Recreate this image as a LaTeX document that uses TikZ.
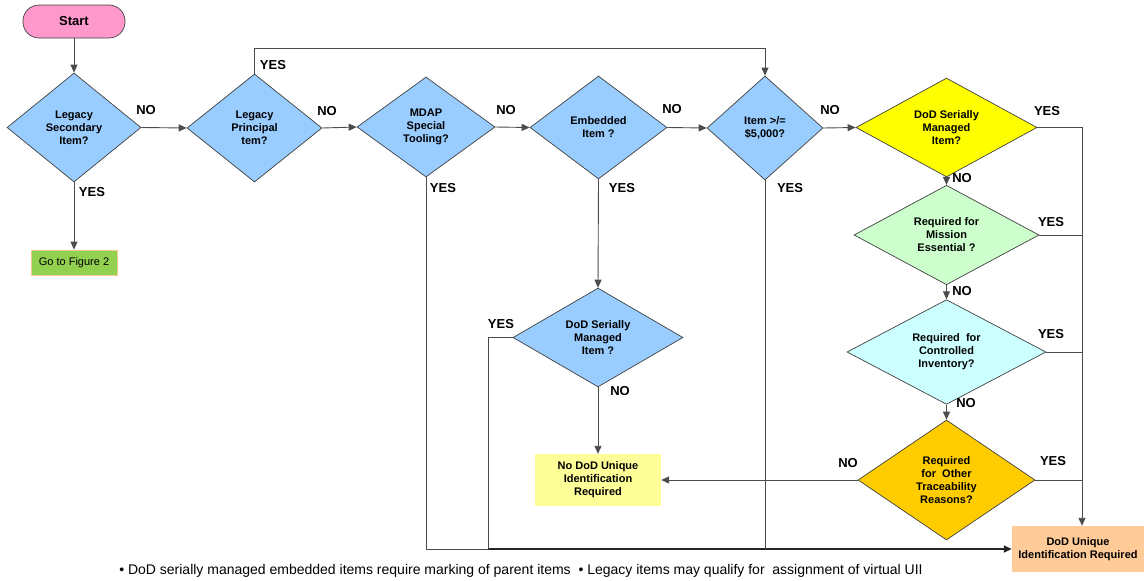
\documentclass[tikz,border=0pt]{standalone}
\usepackage{fontspec}
\setmainfont{Liberation Sans}
\usetikzlibrary{shapes.geometric,arrows.meta,calc}
\definecolor{blueD}{HTML}{99CCFF}
\definecolor{yelD}{HTML}{FFFF00}
\definecolor{greenD}{HTML}{CCFFCC}
\definecolor{cyanD}{HTML}{CCFFFF}
\definecolor{orangeD}{HTML}{FFCC00}
\definecolor{lyel}{HTML}{FFFF99}
\definecolor{peach}{HTML}{FFCC99}
\definecolor{figgreen}{HTML}{92D050}
\definecolor{figborder}{HTML}{F9C88F}
\definecolor{pinkS}{HTML}{FF99CC}
\newcommand\dfont{\fontsize{11}{13}\selectfont\bfseries}
\newcommand\lfont{\fontsize{13}{15}\selectfont\bfseries}
\tikzset{
  dia/.style={diamond, draw=black!75, line width=0.7pt, inner sep=0pt, align=center, font=\dfont, text=black},
  boxn/.style={rectangle, inner sep=0pt, align=center, font=\dfont, text=black},
  lab/.style={font=\lfont, inner sep=0pt},
  conn/.style={draw=black!70, line width=0.9pt},
  arr/.style={conn, -{Triangle[length=8pt,width=7pt]}},
}
\begin{document}
\begin{tikzpicture}[x=1pt,y=-1pt]
\useasboundingbox (0,0) rectangle (1144,581);
% Start
\node[draw=black!75, line width=0.7pt, fill=pinkS, rounded corners=16pt, minimum width=102pt, minimum height=33pt, inner sep=0pt, font=\lfont] (start) at (74,21.5) {Start};
% diamonds
\node[dia, fill=blueD, minimum width=134pt, minimum height=109pt] (d1) at (74,127.5) {Legacy\\Secondary\\Item?};
\node[dia, fill=blueD, minimum width=135pt, minimum height=108pt] (d2) at (254.5,128) {Legacy\\Principal\\tem?};
\node[dia, fill=blueD, minimum width=138pt, minimum height=100pt] (d3) at (426,127) {MDAP\\Special\\Tooling?};
\node[dia, fill=blueD, minimum width=137pt, minimum height=103pt] (d4) at (598.5,127.5) {Embedded\\Item ?};
\node[dia, fill=blueD, minimum width=116pt, minimum height=104pt] (d5) at (765,128) {Item >/=\\\$5,000?};
\node[dia, fill=yelD, minimum width=181pt, minimum height=93pt] (d6) at (946.5,127.5) {DoD Serially\\Managed\\Item?};
\node[dia, fill=greenD, minimum width=185pt, minimum height=94pt] (d7) at (946.5,235) {Required for\\Mission\\Essential ?};
\node[dia, fill=cyanD, minimum width=199pt, minimum height=94pt] (d8) at (946.5,352) {Required\ \ for\\Controlled\\Inventory?};
\node[dia, fill=orangeD, minimum width=177pt, minimum height=120pt] (d9) at (946.5,480) {Required\\for\ \ Other\\Traceability\\Reasons?};
\node[dia, fill=blueD, minimum width=170pt, minimum height=85pt] (d10) at (598,337.5) {DoD Serially\\Managed\\Item ?};
% boxes
\node[boxn, fill=figgreen, draw=figborder, line width=0.8pt, minimum width=86pt, minimum height=25pt, font=\fontsize{11}{13}\selectfont] (fig2) at (74,262.5) {Go to Figure 2};
\node[boxn, fill=lyel, minimum width=126pt, minimum height=52pt] (nodod) at (598,480) {No DoD Unique\\Identification\\Required};
\node[boxn, fill=peach, minimum width=132pt, minimum height=46pt] (dui) at (1078,549) {DoD Unique\\Identification Required};
% helper coordinates
\coordinate (rx) at (1082,0);
\coordinate (topy) at (0,48);
\coordinate (lx) at (488,0);
% connectors
\draw[arr] (start) -- (d1);
\draw[arr] (d1.south) -- (fig2.north);
\draw[arr] (d1.east) -- (d2.west);
\draw[arr] (d2.east) -- (d3.west);
\draw[arr] (d3.east) -- (d4.west);
\draw[arr] (d4.east) -- (d5.west);
\draw[arr] (d5.east) -- (d6.west);
\draw[arr] (d2.north) -- (d2.north |- topy) -- (d5.north |- topy) -- (d5.north);
\draw[arr] (d4.south) -- (d10.north);
\draw[arr] (d10.south) -- (nodod.north);
\draw[arr] (d6.south) -- (d7.north);
\draw[arr] (d7.south) -- (d8.north);
\draw[arr] (d8.south) -- (d9.north);
\draw[arr] (d9.west) -- (nodod.east);
\draw[arr] (d6.east) -- (d6.east -| rx) -- (rx |- dui.north);
\draw[conn] (d7.east) -- (d7.east -| rx);
\draw[conn] (d8.east) -- (d8.east -| rx);
\draw[conn] (d9.east) -- (d9.east -| rx);
\draw[conn] (d3.south) -- (d3.south |- dui.west) -- (lx |- dui.west);
\draw[arr, draw=black!85, line width=1.6pt] (lx |- dui.west) -- (dui.west);
\draw[conn] (d10.west) -- (d10.west -| lx) -- (lx |- dui.west);
\draw[conn] (d5.south) -- (d5.south |- dui.west);
% labels
\node[lab] (l1n) at (146,110) {NO};
\node[lab] (l1y) at (92,192) {YES};
\node[lab] (l2y) at (273,65) {YES};
\node[lab] (l2n) at (327,111) {NO};
\node[lab] (l3n) at (506,110) {NO};
\node[lab] (l3y) at (443,188) {YES};
\node[lab] (l4n) at (672,109) {NO};
\node[lab] (l4y) at (622,188) {YES};
\node[lab] (l5n) at (830,110) {NO};
\node[lab] (l5y) at (790,188) {YES};
\node[lab] (l6y) at (1047,111) {YES};
\node[lab] (l6n) at (962,178) {NO};
\node[lab] (l7y) at (1051,222) {YES};
\node[lab] (l7n) at (962,291) {NO};
\node[lab] (l8y) at (1051,334) {YES};
\node[lab] (l8n) at (966,403) {NO};
\node[lab] (l9y) at (1053,461) {YES};
\node[lab] (l9n) at (848,463) {NO};
\node[lab] (l10y) at (501,324) {YES};
\node[lab] (l10n) at (620,391) {NO};
% footnote
\node[inner sep=0pt, font=\fontsize{14}{16}\selectfont] (note) at (521,571) {• DoD serially managed embedded items require marking of parent items\ \ • Legacy items may qualify for\ \ assignment of virtual UII};
\end{tikzpicture}
\end{document}
